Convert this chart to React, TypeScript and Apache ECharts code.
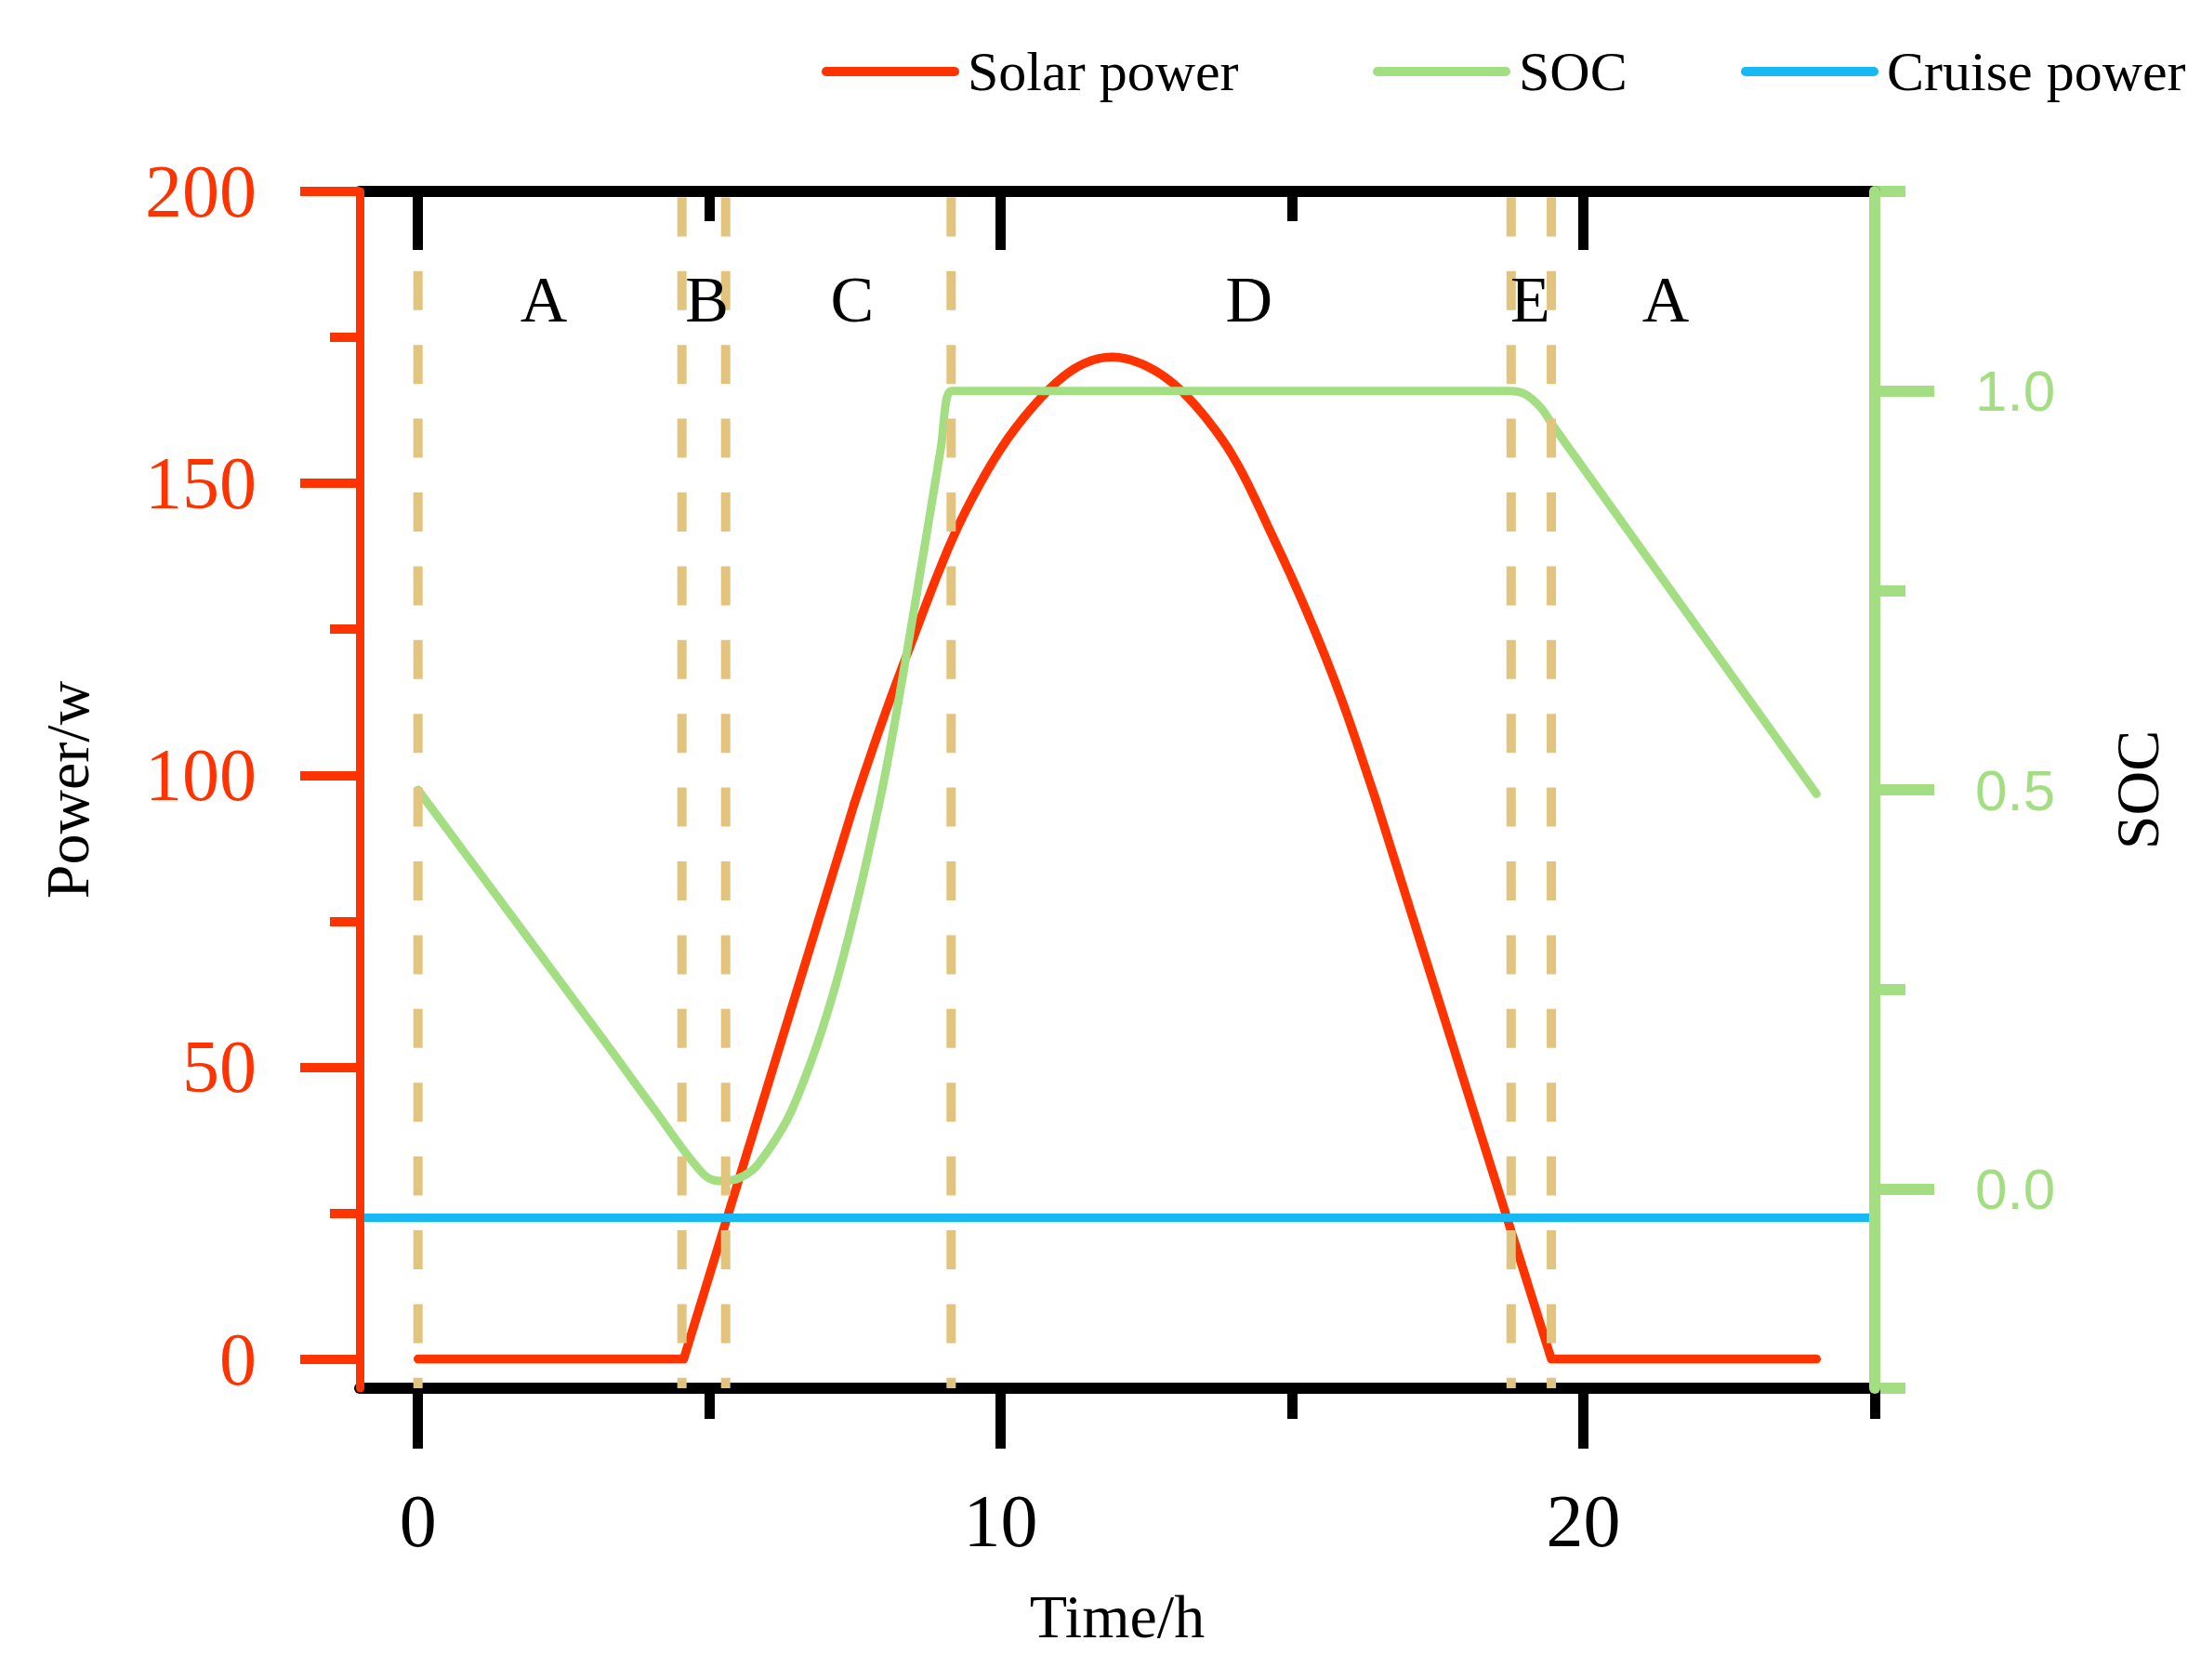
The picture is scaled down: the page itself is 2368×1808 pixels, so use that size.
import React, { useEffect, useRef } from "react";
import * as echarts from "echarts";

// ---- data ----
// Solar power: night flat + linear morning ramp, curved midday part, linear evening ramp + night flat
const solarRampUpTime = [0, 4.56, 7.49];
const solarRampUpPower = [0, 0, 95.2];
const solarMiddayTime = [7.49, 8.42, 9.4, 10.35, 11.31, 11.97, 12.79, 13.8, 14.71, 15.63, 16.43];
const solarMiddayPower = [95.2, 121.4, 145.3, 160.7, 169.9, 171.6, 168.4, 157.5, 140.0, 118.8, 96.0];
const solarRampDownTime = [16.43, 19.45, 24];
const solarRampDownPower = [96.0, 0, 0];

const socTime = [0, 3.19, 4.04, 4.89, 5.21, 5.52, 5.84, 6.43, 7.17, 7.93, 8.44, 8.97, 9.15, 9.4, 18.5, 18.74, 19.0, 19.27, 19.43, 19.56, 24.0];
const socValue = [0.5, 0.186, 0.101, 0.019, 0.0097, 0.0136, 0.031, 0.101, 0.256, 0.488, 0.694, 0.927, 1.0, 1.0, 1.0, 1.0, 0.996, 0.979, 0.962, 0.948, 0.495];

const cruiseTime = [-1, 25];
const cruisePower = [24.2, 24.2];

const phaseBoundaries = [0, 4.53, 5.28, 9.15, 18.76, 19.45];
const phaseLabels = ["A", "B", "C", "D", "E", "A"];
const phaseLabelTimes = [2.16, 4.96, 7.45, 14.26, 19.09, 21.41];
const phaseLabelLevel = 181.5;

const timeMajorTicks = [0, 10, 20];
const timeMinorTicks = [5, 15, 25];
const timeTopMinorTicks = [5, 15];
const powerMajorTicks = [0, 50, 100, 150, 200];
const powerMinorTicks = [25, 75, 125, 175];
const socMajorTicks = [0, 0.5, 1];
const socMinorTicks = [-0.25, 0.25, 0.75, 1.25];

// ---- styles ----
const RED = "#FF3300";
const GREEN = "#A3DE83";
const BLUE = "#17B9F4";
const TAN = "#E2C47F";
const BLACK = "#000000";
const SERIF = "'Liberation Serif', 'Times New Roman', serif";
const SANS = "'Liberation Sans', Arial, sans-serif";

const legendIcon = "path://M5,0H143A5,5,0,0,1,143,10H5A5,5,0,0,1,5,0Z";

function makeLegend(name: string, left: number) {
  return {
    data: [name],
    left,
    top: 47,
    padding: 0,
    itemGap: 0,
    icon: legendIcon,
    itemWidth: 148,
    itemHeight: 10,
    selectedMode: false,
    textStyle: { fontSize: 60, fontFamily: SERIF, color: BLACK, padding: [0, 0, 0, 4] },
  };
}

function zip(xs: number[], ys: number[]) {
  return xs.map((x, i) => [x, ys[i]]);
}

// centripetal Catmull-Rom through pixel points; first/last entries are phantom neighbours
function catmullRom(pts: number[][], samples: number): number[][] {
  const out: number[][] = [];
  const dist = (a: number[], b: number[]) => Math.max(1e-6, Math.pow(Math.hypot(b[0] - a[0], b[1] - a[1]), 0.5));
  for (let i = 1; i < pts.length - 2; i++) {
    const p0 = pts[i - 1], p1 = pts[i], p2 = pts[i + 1], p3 = pts[i + 2];
    const t0 = 0;
    const t1 = t0 + dist(p0, p1);
    const t2 = t1 + dist(p1, p2);
    const t3 = t2 + dist(p2, p3);
    for (let s = i === 1 ? 0 : 1; s <= samples; s++) {
      const t = t1 + ((t2 - t1) * s) / samples;
      const lerp = (a: number[], b: number[], ta: number, tb: number) => {
        const wa = (tb - t) / (tb - ta), wb = (t - ta) / (tb - ta);
        return [a[0] * wa + b[0] * wb, a[1] * wa + b[1] * wb];
      };
      const A1 = lerp(p0, p1, t0, t1);
      const A2 = lerp(p1, p2, t1, t2);
      const A3 = lerp(p2, p3, t2, t3);
      const B1 = lerp(A1, A2, t0, t2);
      const B2 = lerp(A2, A3, t1, t3);
      out.push(lerp(B1, B2, t1, t2));
    }
  }
  return out;
}

function solarLine(times: number[], powers: number[]) {
  return {
    name: "Solar power",
    type: "line",
    xAxisIndex: 0,
    yAxisIndex: 0,
    data: zip(times, powers),
    symbol: "none",
    color: RED,
    lineStyle: { color: RED, width: 9.5, cap: "round", join: "round" },
    z: 2,
    silent: true,
  };
}

export default function App() {
  const ref = useRef<HTMLDivElement>(null);

  useEffect(() => {
    if (!ref.current) return;
    const chart = echarts.init(ref.current, undefined, { renderer: "svg" });

    const xBase: any = { type: "value", min: -1, max: 25, splitLine: { show: false } };
    const yPowerBase: any = { type: "value", min: -5, max: 200, splitLine: { show: false } };
    const ySocBase: any = { type: "value", min: -0.25, max: 1.25, splitLine: { show: false } };

    const middayCurve = {
      name: "Solar power",
      type: "custom",
      coordinateSystem: "cartesian2d",
      xAxisIndex: 0,
      yAxisIndex: 0,
      data: zip(solarMiddayTime, solarMiddayPower),
      encode: { x: 0, y: 1 },
      z: 2,
      silent: true,
      renderItem: (params: any, api: any) => {
        if (params.dataIndex !== 0) return null;
        const nodes = [
          [solarRampUpTime[1], solarRampUpPower[1]],
          ...zip(solarMiddayTime, solarMiddayPower),
          [solarRampDownTime[1], solarRampDownPower[1]],
        ].map((d) => api.coord(d));
        return {
          type: "polyline",
          shape: { points: catmullRom(nodes, 24) },
          style: { stroke: RED, lineWidth: 9.5, fill: "none", lineCap: "round", lineJoin: "round" },
          silent: true,
        };
      },
    };

    const option: any = {
      animation: false,
      textStyle: { fontFamily: SERIF },
      legend: [
        makeLegend("Solar power", 884),
        makeLegend("SOC", 1477),
        makeLegend("Cruise power", 1873),
      ],
      grid: { left: 387, right: 351, top: 206, bottom: 314, containLabel: false, outerBoundsMode: "none" },
      xAxis: [
        {
          ...xBase,
          position: "bottom",
          axisLine: { show: true, onZero: false, lineStyle: { color: BLACK, width: 12 } },
          axisTick: { show: true, inside: false, length: 65, customValues: timeMajorTicks, lineStyle: { color: BLACK, width: 11 } },
          axisLabel: { show: true, customValues: timeMajorTicks, margin: 103, fontSize: 80, fontFamily: SERIF, color: BLACK },
          name: "Time/h",
          nameLocation: "middle",
          nameGap: 212,
          nameTextStyle: { fontSize: 66, fontFamily: SERIF, color: BLACK },
        },
        {
          ...xBase,
          position: "bottom",
          axisLine: { show: false, onZero: false },
          axisTick: { show: true, inside: false, length: 33, customValues: timeMinorTicks, lineStyle: { color: BLACK, width: 11 } },
          axisLabel: { show: false },
        },
        {
          ...xBase,
          position: "top",
          z: 10,
          axisLine: { show: true, onZero: false, lineStyle: { color: BLACK, width: 12 } },
          axisTick: { show: true, inside: true, length: 63, customValues: timeMajorTicks, lineStyle: { color: BLACK, width: 11 } },
          axisLabel: { show: false },
        },
        {
          ...xBase,
          position: "top",
          z: 10,
          axisLine: { show: false, onZero: false },
          axisTick: { show: true, inside: true, length: 32, customValues: timeTopMinorTicks, lineStyle: { color: BLACK, width: 11 } },
          axisLabel: { show: false },
        },
      ],
      yAxis: [
        {
          ...yPowerBase,
          position: "left",
          z: 11,
          axisLine: { show: true, onZero: false, lineStyle: { color: RED, width: 9 } },
          axisTick: { show: true, inside: false, length: 64, customValues: powerMajorTicks, lineStyle: { color: RED, width: 10 } },
          axisLabel: { show: true, customValues: powerMajorTicks, margin: 111, fontSize: 80, fontFamily: SERIF, color: RED },
          name: "Power/w",
          nameLocation: "middle",
          nameGap: 282,
          nameRotate: 90,
          nameTextStyle: { fontSize: 66, fontFamily: SERIF, color: BLACK },
        },
        {
          ...yPowerBase,
          position: "left",
          axisLine: { show: false, onZero: false },
          axisTick: { show: true, inside: false, length: 32, customValues: powerMinorTicks, lineStyle: { color: RED, width: 10 } },
          axisLabel: { show: false },
        },
        {
          ...ySocBase,
          position: "right",
          z: 11,
          axisLine: { show: true, onZero: false, lineStyle: { color: GREEN, width: 12 } },
          axisTick: { show: true, inside: false, length: 64, customValues: socMajorTicks, lineStyle: { color: GREEN, width: 12 } },
          axisLabel: {
            show: true,
            customValues: socMajorTicks,
            margin: 108,
            fontSize: 62,
            fontFamily: SANS,
            color: GREEN,
            formatter: (v: number) => v.toFixed(1),
          },
          name: "SOC",
          nameLocation: "middle",
          nameGap: 249,
          nameRotate: 90,
          nameTextStyle: { fontSize: 66, fontFamily: SERIF, color: BLACK },
        },
        {
          ...ySocBase,
          position: "right",
          axisLine: { show: false, onZero: false },
          axisTick: { show: true, inside: false, length: 33, customValues: socMinorTicks, lineStyle: { color: GREEN, width: 12 } },
          axisLabel: { show: false },
        },
      ],
      series: [
        solarLine(solarRampUpTime, solarRampUpPower),
        middayCurve,
        solarLine(solarRampDownTime, solarRampDownPower),
        {
          name: "SOC",
          type: "line",
          xAxisIndex: 0,
          yAxisIndex: 2,
          data: zip(socTime, socValue),
          symbol: "none",
          smooth: 0.35,
          color: GREEN,
          lineStyle: { color: GREEN, width: 9, cap: "round", join: "round" },
          z: 3,
          silent: true,
        },
        {
          name: "Cruise power",
          type: "line",
          xAxisIndex: 0,
          yAxisIndex: 0,
          data: zip(cruiseTime, cruisePower),
          symbol: "none",
          color: BLUE,
          lineStyle: { color: BLUE, width: 9 },
          z: 4,
          silent: true,
        },
        ...phaseBoundaries.map((t) => ({
          type: "line",
          xAxisIndex: 0,
          yAxisIndex: 0,
          data: [
            [t, 200],
            [t, -5],
          ],
          symbol: "none",
          lineStyle: { color: TAN, width: 10, type: [42, 37.4], dashOffset: 73.4 },
          z: 5,
          silent: true,
        })),
        {
          type: "scatter",
          xAxisIndex: 0,
          yAxisIndex: 0,
          data: phaseLabelTimes.map((t, i) => ({ value: [t, phaseLabelLevel], name: phaseLabels[i] })),
          symbol: "circle",
          symbolSize: 0.1,
          itemStyle: { color: BLACK },
          label: {
            show: true,
            position: "inside",
            formatter: "{b}",
            fontSize: 70,
            fontFamily: SERIF,
            color: BLACK,
            opacity: 1,
            textBorderWidth: 0,
          },
          z: 6,
          silent: true,
        },
      ],
    };

    chart.setOption(option);
    return () => chart.dispose();
  }, []);

  return (
    <div
      ref={ref}
      style={{ position: "absolute", left: 0, top: 0, width: 2368, height: 1808, background: "#ffffff" }}
    />
  );
}
